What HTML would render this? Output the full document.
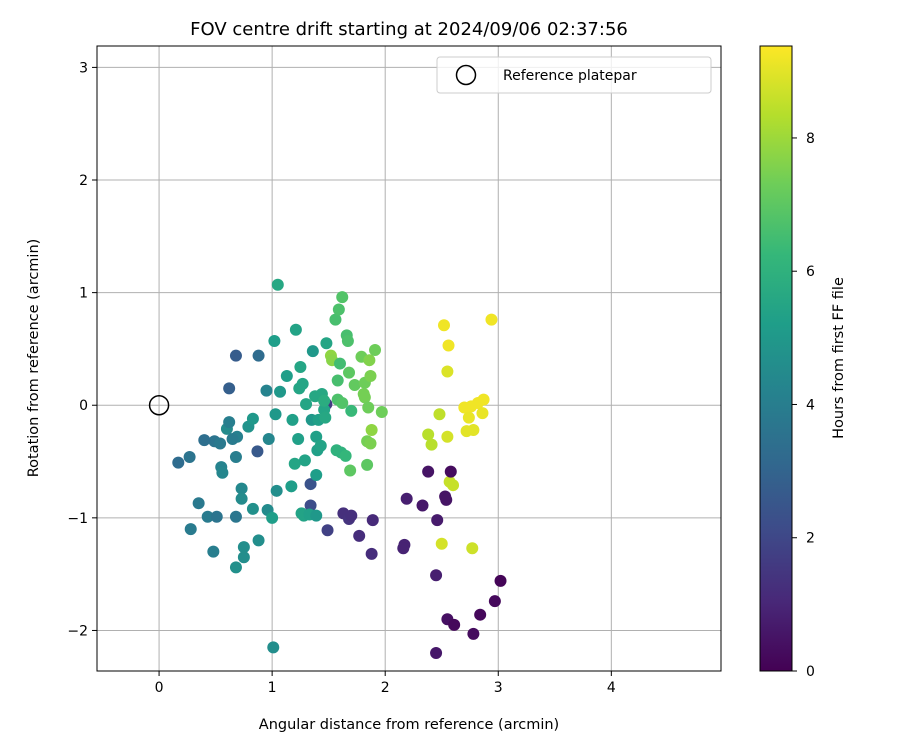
<!DOCTYPE html>
<html><head><meta charset="utf-8"><style>
body{margin:0;background:#fff;font-family:"Liberation Sans","DejaVu Sans",sans-serif;}
svg text{font-family:"DejaVu Sans","Liberation Sans",sans-serif;}
</style></head><body>
<svg id="chart" width="900" height="750" xmlns="http://www.w3.org/2000/svg"></svg>
<script>
const xTicks=[0,1,2,3,4];
const yTicks=[-2,-1,0,1,2,3];
const cTicks=[0,2,4,6,8];
const xs=[2.52,2.56,2.94,2.55,2.70,2.76,2.82,2.87,2.86,2.74,2.78,2.72,2.55,2.48,2.38,2.41,2.57,2.60,2.50,2.77,
2.58,2.38,2.53,2.54,2.33,2.19,2.46,2.17,2.16,2.45,3.02,2.97,2.84,2.55,2.61,2.78,2.45,1.89,1.88,1.77,1.63,1.68,1.70,1.49,1.34,1.34,1.48,
0.17,0.27,0.35,0.28,0.43,0.49,0.40,0.48,0.51,0.54,0.55,0.56,0.60,0.62,0.62,0.68,0.68,0.68,0.68,0.69,0.65,0.73,0.73,0.75,0.75,0.79,0.83,0.83,0.87,0.88,0.88,0.95,0.97,0.96,1.00,1.01,1.02,1.03,1.04,1.05,1.07,1.13,1.17,1.18,1.20,1.21,1.23,1.24,1.25,1.26,1.27,1.28,1.29,1.30,1.33,1.35,1.36,1.38,1.39,1.39,1.39,1.40,1.41,1.43,1.44,1.46,1.47,1.48,1.46,
1.52,1.53,1.56,1.59,1.62,1.60,1.58,1.58,1.57,1.61,1.62,1.66,1.67,1.68,1.69,1.70,1.73,1.79,1.81,1.82,1.82,1.84,1.84,1.85,1.86,1.87,1.87,1.88,1.91,1.97,1.65];
const ys=[0.71,0.53,0.76,0.30,-0.02,-0.01,0.02,0.05,-0.07,-0.11,-0.22,-0.23,-0.28,-0.08,-0.26,-0.35,-0.68,-0.71,-1.23,-1.27,
-0.59,-0.59,-0.81,-0.84,-0.89,-0.83,-1.02,-1.24,-1.27,-1.51,-1.56,-1.74,-1.86,-1.90,-1.95,-2.03,-2.20,-1.02,-1.32,-1.16,-0.96,-1.01,-0.98,-1.11,-0.89,-0.70,0.01,
-0.51,-0.46,-0.87,-1.10,-0.99,-0.32,-0.31,-1.30,-0.99,-0.34,-0.55,-0.60,-0.21,-0.15,0.15,0.44,-0.99,-1.44,-0.46,-0.28,-0.30,-0.74,-0.83,-1.26,-1.35,-0.19,-0.12,-0.92,-0.41,0.44,-1.20,0.13,-0.30,-0.93,-1.00,-2.15,0.57,-0.08,-0.76,1.07,0.12,0.26,-0.72,-0.13,-0.52,0.67,-0.30,0.15,0.34,-0.96,0.19,-0.98,-0.49,0.01,-0.97,-0.13,0.48,0.08,-0.28,-0.98,-0.62,-0.40,-0.13,-0.36,0.10,-0.04,-0.11,0.55,0.04,
0.44,0.40,0.76,0.85,0.96,0.37,0.22,0.05,-0.40,-0.42,0.02,0.62,0.57,0.29,-0.58,-0.05,0.18,0.43,0.10,0.07,0.20,-0.32,-0.53,-0.02,0.40,-0.34,0.26,-0.22,0.49,-0.06,-0.45];
const hours=[9.2,9.2,9.2,8.9,9.2,9.2,9.2,9.2,9.1,9.1,9.0,9.0,8.8,8.5,8.4,8.4,8.6,8.6,8.8,8.7,
0.3,0.5,0.5,0.5,0.6,0.8,0.7,0.9,0.9,0.8,0.1,0.2,0.2,0.4,0.2,0.3,0.6,1.1,1.2,1.2,1.3,1.4,1.3,1.8,2.2,2.4,1.6,
3.3,3.6,3.8,3.9,3.9,3.6,3.4,4.0,3.6,3.8,4.2,4.3,4.5,4.0,2.8,2.7,3.7,4.7,4.0,4.1,3.9,4.4,4.5,4.6,4.6,4.8,5.0,4.7,2.6,3.3,4.6,4.2,4.3,4.5,5.2,4.6,5.2,5.0,4.6,5.6,5.0,5.2,5.2,5.3,5.5,5.4,5.3,5.5,5.5,5.4,5.5,5.4,5.4,5.5,5.3,5.0,5.0,5.6,5.3,5.0,5.2,5.3,5.3,5.4,5.6,5.5,5.6,5.5,5.8,
7.8,7.7,6.6,6.7,6.8,6.5,6.6,6.7,6.0,6.0,6.8,6.6,6.7,7.0,7.0,6.3,7.1,7.3,7.4,7.4,7.3,7.4,7.0,7.3,7.6,7.5,7.5,7.8,7.3,7.3,6.2];
const L=97,R=721,T=46,B=671, xmin=-0.549,xmax=4.97,ymin=-2.36,ymax=3.19, cmax=9.38;
const sx=v=>L+(v-xmin)/(xmax-xmin)*(R-L);
const sy=v=>B-(v-ymin)/(ymax-ymin)*(B-T);
const sc=v=>B-v/cmax*(B-T);
const vir=[[68,1,84],[72,40,120],[62,74,137],[49,104,142],[38,130,142],[31,158,137],[53,183,121],[109,205,89],[180,222,44],[253,231,37]];
function col(h){let t=Math.max(0,Math.min(1,h/cmax))*(vir.length-1);let i=Math.min(Math.floor(t),vir.length-2),f=t-i;
return 'rgb('+vir[i].map((c,k)=>Math.round(c+(vir[i+1][k]-c)*f)).join(',')+')';}
const NS='http://www.w3.org/2000/svg', svg=document.getElementById('chart');
function mk(tag,at,txt){const e=document.createElementNS(NS,tag);for(const k in at)e.setAttribute(k,at[k]);if(txt!==undefined)e.textContent=txt;svg.appendChild(e);return e;}
let e;
xTicks.forEach(v=>{
e=mk('line',{x1:sx(v),x2:sx(v),y1:T,y2:B,stroke:'#b0b0b0','stroke-width':1});


e=mk('line',{x1:sx(v),x2:sx(v),y1:B,y2:B+5,stroke:'#000'});


e=mk('text',{x:sx(v),y:B+21,'font-size':14,'text-anchor':'middle'},String(v));


});
yTicks.forEach(v=>{
e=mk('line',{x1:L,x2:R,y1:sy(v),y2:sy(v),stroke:'#b0b0b0','stroke-width':1});


e=mk('line',{x1:L-5,x2:L,y1:sy(v),y2:sy(v),stroke:'#000'});


e=mk('text',{x:L-9,y:sy(v)+5,'font-size':14,'text-anchor':'end'},v<0?'\u2212'+(-v):String(v));


});
xs.forEach((x,i)=>{
e=mk('circle',{cx:sx(x),cy:sy(ys[i]),r:6,fill:col(hours[i])});


});
e=mk('circle',{cx:sx(0),cy:sy(0),r:9.5,fill:'none',stroke:'#000','stroke-width':1.5});


e=mk('rect',{x:L,y:T,width:R-L,height:B-T,fill:'none',stroke:'#000','stroke-width':1});


e=mk('rect',{x:437,y:57,width:274,height:36,rx:3,fill:'#fff','fill-opacity':0.8,stroke:'#ccc'});


e=mk('circle',{cx:466,cy:75,r:9.5,fill:'none',stroke:'#000','stroke-width':1.5});


e=mk('text',{x:503,y:80,'font-size':14},'Reference platepar');


e=mk('text',{x:409,y:35,'font-size':18,'text-anchor':'middle'},'FOV centre drift starting at 2024/09/06 02:37:56');


e=mk('text',{x:409,y:729,'font-size':14.5,'text-anchor':'middle'},'Angular distance from reference (arcmin)');


e=mk('text',{x:0,y:0,'font-size':14.5,'text-anchor':'middle',transform:'translate(38,358) rotate(-90)'},'Rotation from reference (arcmin)');


const defs=document.createElementNS(NS,'defs');svg.appendChild(defs);
const g=document.createElementNS(NS,'linearGradient');g.setAttribute('id','vg');g.setAttribute('x1','0');g.setAttribute('y1','1');g.setAttribute('x2','0');g.setAttribute('y2','0');
vir.forEach((c,i)=>{const s=document.createElementNS(NS,'stop');s.setAttribute('offset',i/(vir.length-1));s.setAttribute('stop-color','rgb('+c.join(',')+')');g.appendChild(s);});
defs.appendChild(g);
e=mk('rect',{x:760,y:T,width:32,height:B-T,fill:'url(#vg)',stroke:'#000','stroke-width':1});


cTicks.forEach(v=>{
e=mk('line',{x1:792,x2:797,y1:sc(v),y2:sc(v),stroke:'#000'});


e=mk('text',{x:806,y:sc(v)+5,'font-size':14},String(v));


});
e=mk('text',{x:0,y:0,'font-size':14.5,'text-anchor':'middle',transform:'translate(843,358) rotate(-90)'},'Hours from first FF file');


</script>
</body></html>
